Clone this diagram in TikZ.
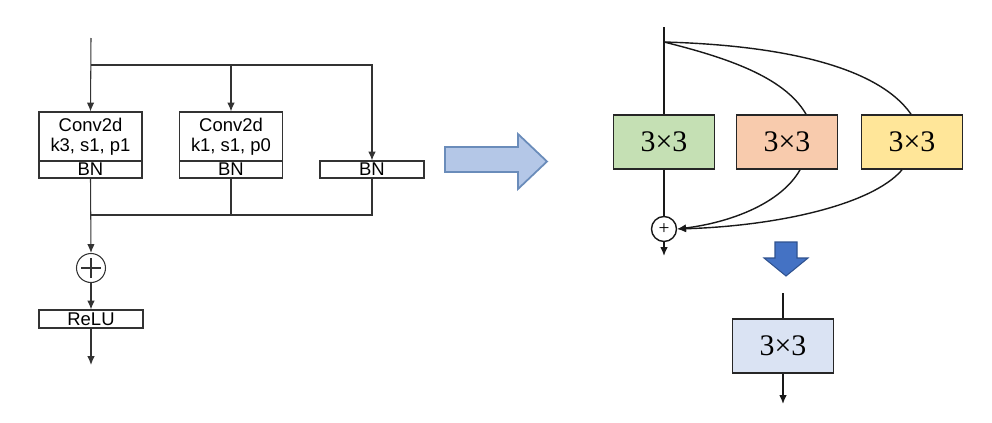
\documentclass[tikz,border=0pt]{standalone}
\usepackage{fontspec}
\setmainfont{Liberation Sans}
\newfontfamily\timesfont{Liberation Serif}
\usetikzlibrary{calc,arrows.meta}

\definecolor{kgreen}{HTML}{C5E0B4}
\definecolor{korange}{HTML}{F8CBAD}
\definecolor{kyellow}{HTML}{FFE699}
\definecolor{klav}{HTML}{DAE3F3}
\definecolor{arrowlight}{HTML}{B4C7E7}
\definecolor{arrowedge}{HTML}{6A8CBA}
\definecolor{arrowblue}{HTML}{4472C4}
\definecolor{arrowblueedge}{HTML}{2F528F}

\begin{document}
\begin{tikzpicture}[x=0.02cm,y=-0.02cm,>={Latex[length=5pt,width=4.2pt]},
	line/.style={draw=black!80,line width=0.6pt},
	conv/.style={line,minimum width=2.06cm,minimum height=0.98cm,inner sep=0pt,align=center,font=\fontsize{10.5}{11.5}\selectfont},
	bn/.style={line,minimum width=2.06cm,minimum height=0.34cm,inner sep=0pt,font=\fontsize{10.5}{11.5}\selectfont},
	plus/.style={line,circle,minimum size=0.58cm,inner sep=0pt,
		path picture={\draw[line] ($(path picture bounding box.center)+(-0.2cm,0)$) -- ++(0.4cm,0);
			\draw[line] ($(path picture bounding box.center)+(0,-0.2cm)$) -- ++(0,0.4cm);}},
	wire/.style={draw=black!90,line width=0.8pt},
	kbox/.style={draw=black!85,line width=1pt,minimum width=2.02cm,minimum height=1.08cm,inner sep=0pt,font=\timesfont\fontsize{17}{17}\selectfont},
	add/.style={wire,circle,minimum size=0.5cm,inner sep=0pt,font=\timesfont\fontsize{11}{11}\selectfont}]
\useasboundingbox (0,0) rectangle (992,423);
%LEFT: RepVGG block in training
	%branches
	\coordinate (in1) at (91,38);
	\coordinate (split) at (91,65);
	\coordinate (merge) at (91,215);
	\coordinate (out1) at (91,365);
	\node[conv] (conv1) at (90.5,136.5) {Conv2d\\k3, s1, p1};
	\node[bn] (bn1) at (90.5,169.5) {BN};
	\node[conv] (conv2) at (231,136.5) {Conv2d\\k1, s1, p0};
	\node[bn] (bn2) at (231,169.5) {BN};
	\node[bn,minimum width=2.08cm] (bn3) at (372,169.5) {BN};
	\node[plus] (add1) at (91,268) {};
	\node[bn,minimum width=2.08cm,minimum height=0.36cm] (relu) at (91,319) {ReLU};
	%wires
	\draw[line,->] (in1) -- (conv1.north);
	\draw[line,->] (split) -| (bn3.north);
	\draw[line,->] (conv2.north |- split) -- (conv2.north);
	\draw[line,->] (bn1.south) -- (add1.north);
	\draw[line] (bn2.south) -- (bn2.south |- merge);
	\draw[line] (bn3.south) |- (merge);
	\draw[line,->] (add1.south) -- (relu.north);
	\draw[line,->] (relu.south) -- (out1);
%ARROW
	\draw[fill=arrowlight,draw=arrowedge,line width=1pt] (445,147) -- (518,147) -- (518,134) -- (547,161.5) -- (518,189) -- (518,172) -- (445,172) -- cycle;
%RIGHT TOP: three 3x3 branches
	\coordinate (in2) at (664,27);
	\coordinate (fork) at (664,42);
	\coordinate (out2) at (664,256);
	\node[kbox,fill=kgreen] (b1) at (664,142) {3×3};
	\node[kbox,fill=korange] (b2) at (787,142) {3×3};
	\node[kbox,fill=kyellow] (b3) at (912,142) {3×3};
	\node[add] (add2) at (664,229) {+};
	\draw[wire] (in2) -- (b1.north);
	\draw[wire] (fork) .. controls +(60,15) and +(-22,-38) .. ([xshift=0.38cm]b2.north);
	\draw[wire] (fork) .. controls +(110,3) and +(-35,-50) .. ([xshift=-0.02cm]b3.north);
	\draw[wire] (b1.south) -- (add2.north);
	\draw[wire,->] ([xshift=0.26cm]b2.south) .. controls +(-20,35) and +(50,-6) .. (add2.east);
	\draw[wire,->] ([xshift=-0.2cm]b3.south) .. controls +(-30,35) and +(100,-3) .. (add2.east);
	\draw[wire,->] (add2.south) -- (out2);
%ARROW DOWN
	\draw[fill=arrowblue,draw=arrowblueedge,line width=0.6pt] (775,242) -- (797,242) -- (797,258) -- (808,258) -- (786,276) -- (764,258) -- (775,258) -- cycle;
%RIGHT BOTTOM: fused 3x3
	\coordinate (in4) at (783,293);
	\coordinate (out4) at (783,404);
	\node[kbox,fill=klav] (b4) at (783,346) {3×3};
	\draw[wire] (in4) -- (b4.north);
	\draw[wire,->] (b4.south) -- (out4);
\end{tikzpicture}
\end{document}
